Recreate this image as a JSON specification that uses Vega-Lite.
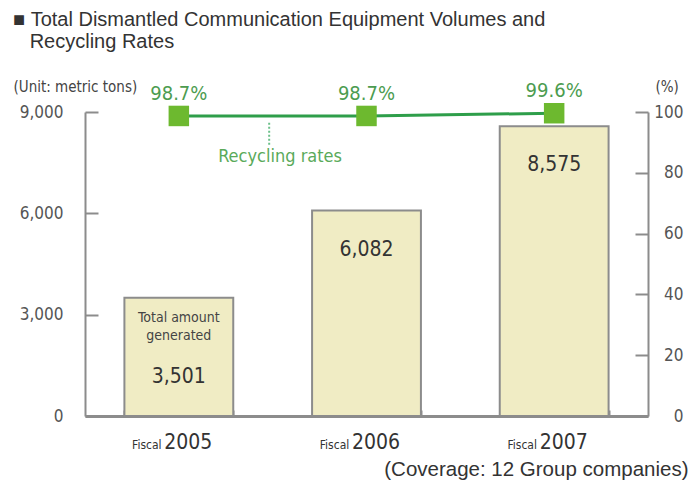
{
  "$schema": "https://vega.github.io/schema/vega-lite/v6.json",
  "width": 563,
  "height": 304,
  "autosize": {"type": "none"},
  "padding": {"left": 85, "top": 112, "right": 43, "bottom": 68},
  "background": "white",
  "title": {
    "text": ["■\u00a0Total Dismantled Communication Equipment Volumes and", "\u200b\u00a0\u00a0\u00a0Recycling Rates"],
    "anchor": "start",
    "frame": "group",
    "dx": -72,
    "dy": -17,
    "font": "Liberation Sans",
    "fontSize": 20,
    "fontWeight": "normal",
    "color": "#333333",
    "lineHeight": 22,
    "offset": 10
  },
  "datasets": {
    "d": [
      {"year": "2005", "amount": 3501, "rate": 98.7, "rate_text": "98.7%", "note": "Total amount\ngenerated"},
      {"year": "2006", "amount": 6082, "rate": 98.7, "rate_text": "98.7%", "note": ""},
      {"year": "2007", "amount": 8575, "rate": 99.6, "rate_text": "99.6%", "note": ""}
    ]
  },
  "data": {"name": "d"},
  "config": {
    "view": {"stroke": null},
    "axis": {"grid": false}
  },
  "layer": [
    {
      "encoding": {
        "x": {
          "field": "year", "type": "nominal",
          "scale": {"paddingInner": 0.42, "paddingOuter": 0.21},
          "axis": {
            "orient": "bottom",
            "title": "(Coverage: 12 Group companies)",
            "titleFont": "Liberation Sans", "titleFontSize": 20.5, "titleFontWeight": "normal", "titleColor": "#333333",
            "titleAnchor": "end", "titleAlign": "right", "titleBaseline": "alphabetic",
            "titleX": 603, "titleY": 59,
            "labelAngle": 0, "labelFont": "Liberation Sans Narrow, DejaVu Sans Condensed, sans-serif",
            "labelFontSize": 21, "labelColor": "#333333", "labelOffset": 9,
            "labelBaseline": "alphabetic", "labelPadding": 38,
            "domainColor": "#8c8c8c", "domainWidth": 3,
            "tickBand": "extent", "tickSize": -6, "tickColor": "#8c8c8c", "tickWidth": 2
          }
        },
        "y": {
          "field": "amount", "type": "quantitative",
          "scale": {"domain": [0, 9000]},
          "axis": {
            "values": [0, 3000, 6000, 9000], "format": ",.0f",
            "title": "(Unit: metric tons)", "titleAngle": 0,
            "titleX": -72, "titleY": -21, "titleAlign": "left", "titleBaseline": "alphabetic",
            "titleFont": "Liberation Sans Narrow, DejaVu Sans Condensed, sans-serif",
            "titleFontSize": 15, "titleFontWeight": "normal", "titleColor": "#444444",
            "labelFont": "Liberation Sans Narrow, DejaVu Sans Condensed, sans-serif",
            "labelFontSize": 17, "labelColor": "#555555", "labelPadding": 35,
            "tickSize": -13, "tickWidth": 2, "tickColor": "#8c8c8c",
            "domainColor": "#8c8c8c", "domainWidth": 2
          }
        }
      },
      "layer": [
        {"mark": {"type": "bar", "fill": "#f0ecc4", "stroke": "#8c8c8c", "strokeWidth": 2}},
        {
          "transform": [{"filter": "datum.note == ''"}],
          "mark": {"type": "text", "baseline": "alphabetic", "dy": 45, "font": "Liberation Sans Narrow, DejaVu Sans Condensed, sans-serif", "fontSize": 21, "color": "#333333"},
          "encoding": {"text": {"field": "amount", "type": "quantitative", "format": ","}}
        },
        {
          "transform": [{"filter": "datum.note != ''"}],
          "mark": {"type": "text", "baseline": "alphabetic", "dy": 85, "font": "Liberation Sans Narrow, DejaVu Sans Condensed, sans-serif", "fontSize": 21, "color": "#333333"},
          "encoding": {"text": {"field": "amount", "type": "quantitative", "format": ","}}
        },
        {
          "transform": [{"filter": "datum.note != ''"}],
          "mark": {"type": "text", "baseline": "alphabetic", "dy": 24, "lineBreak": "\n", "lineHeight": 18, "font": "Liberation Sans Narrow, DejaVu Sans Condensed, sans-serif", "fontSize": 14, "color": "#444444"},
          "encoding": {"text": {"field": "note"}}
        }
      ]
    },
    {
      "encoding": {
        "x": {
          "field": "year", "type": "nominal",
          "scale": {"paddingInner": 0.42, "paddingOuter": 0.21},
          "axis": {
            "orient": "bottom",
            "title": null, "labelAngle": 0, "labelExpr": "'Fiscal'",
            "labelFont": "Liberation Sans Narrow, DejaVu Sans Condensed, sans-serif",
            "labelFontSize": 12, "labelColor": "#333333", "labelOffset": -32,
            "labelBaseline": "alphabetic", "labelPadding": 32,
            "domain": false, "ticks": false
          }
        },
        "y": {
          "field": "rate", "type": "quantitative",
          "scale": {"domain": [0, 100]},
          "axis": {
            "orient": "right", "values": [0, 20, 40, 60, 80, 100],
            "title": "(%)", "titleAngle": 0, "titleX": 7, "titleY": -21,
            "titleAlign": "left", "titleBaseline": "alphabetic",
            "titleFont": "Liberation Sans Narrow, DejaVu Sans Condensed, sans-serif",
            "titleFontSize": 15, "titleFontWeight": "normal", "titleColor": "#444444",
            "labelFont": "Liberation Sans Narrow, DejaVu Sans Condensed, sans-serif",
            "labelFontSize": 17, "labelColor": "#555555",
            "labelAlign": "right", "labelPadding": 48,
            "tickSize": -13, "tickWidth": 2, "tickColor": "#8c8c8c",
            "domainColor": "#8c8c8c", "domainWidth": 2
          }
        }
      },
      "layer": [
        {"mark": {"type": "line", "stroke": "#2e9e4a", "strokeWidth": 3}},
        {
          "transform": [{"filter": "datum.year == '2005'"}],
          "mark": {"type": "rule", "stroke": "#6cc08a", "strokeWidth": 2, "strokeDash": [2, 2]},
          "encoding": {
            "x": {"field": "year", "type": "nominal", "bandPosition": 1.33},
            "y": {"datum": 96.5},
            "y2": {"datum": 89}
          }
        },
        {
          "transform": [{"filter": "datum.year == '2005'"}],
          "mark": {"type": "text", "text": "Recycling rates", "baseline": "alphabetic", "font": "Liberation Sans Narrow, DejaVu Sans Condensed, sans-serif", "fontSize": 18, "color": "#5aaa5a"},
          "encoding": {
            "x": {"field": "year", "type": "nominal", "bandPosition": 1.43},
            "y": {"datum": 83.5}
          }
        },
        {"mark": {"type": "square", "filled": true, "size": 420, "color": "#6db92f", "opacity": 1}},
        {
          "mark": {"type": "text", "baseline": "alphabetic", "dy": -16, "font": "Liberation Sans Narrow, DejaVu Sans Condensed, sans-serif", "fontSize": 20, "color": "#4c9c50"},
          "encoding": {"text": {"field": "rate_text"}}
        }
      ]
    }
  ],
  "resolve": {"scale": {"x": "independent", "y": "independent"}}
}
